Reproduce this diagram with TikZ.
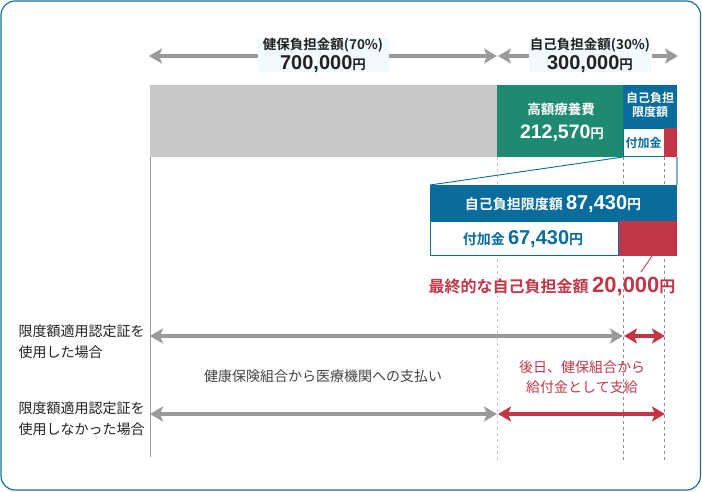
\documentclass[tikz,border=0pt]{standalone}
\usepackage{fontspec}
\setmainfont{Noto Sans CJK JP}[BoldFont={Noto Sans CJK JP Bold}]
\newfontfamily\numf{Liberation Sans}
\usetikzlibrary{arrows.meta}
\definecolor{frameblue}{HTML}{1A70A0}
\definecolor{barblue}{HTML}{086C9C}
\definecolor{bargreen}{HTML}{1E8A72}
\definecolor{barred}{HTML}{C23647}
\definecolor{bargray}{HTML}{C8C8C8}
\definecolor{arrgray}{HTML}{9A9A9A}
\definecolor{labelbg}{HTML}{F2FBFB}
\definecolor{txt}{HTML}{222222}
\begin{document}
\begin{tikzpicture}[x=1pt,y=-1pt,
  garrow/.style={draw=arrgray,line width=4pt,{Stealth[length=13pt,width=15pt,inset=3pt]}-{Stealth[length=13pt,width=15pt,inset=3pt]}},
  rarrow/.style={draw=barred,line width=4pt,{Stealth[length=13pt,width=15pt,inset=3pt]}-{Stealth[length=13pt,width=15pt,inset=3pt]}},
  toplabel/.style={fill=labelbg,inner sep=0pt,minimum width=131pt,minimum height=30pt,align=center,text=txt,font=\bfseries\fontsize{13.5}{15}\selectfont},
  vdash/.style={draw=gray!90,dashed,line width=0.6pt,dash pattern=on 3pt off 3pt},
  sidelabel/.style={anchor=west,align=left,text=txt,font=\fontsize{14}{21}\selectfont},
  whitebold/.style={text=white,font=\bfseries\fontsize{13.5}{15}\selectfont,align=center}
]
\useasboundingbox (0,0) rectangle (702,491);
\draw[frameblue,line width=1.2pt,rounded corners=14pt] (1,1) rectangle (700.5,490);

% guide lines
\coordinate (g1t) at (150,157); \coordinate (g1b) at (150,457);
\coordinate (g2t) at (497,157); \coordinate (g2b) at (497,462);
\coordinate (g3t) at (623,157); \coordinate (g3b) at (623,462);
\coordinate (g4t) at (664,157); \coordinate (g4b) at (664,462);
\draw[arrgray,line width=0.6pt] (g1t) -- (g1b);
\draw[vdash,draw=gray!45] (g2t) -- (g2b);
\draw[vdash] (g3t) -- (g3b);
\draw[vdash] (g4t) -- (g4b);

% top arrows
\coordinate (a1l) at (149,56); \coordinate (a1r) at (497,56);
\coordinate (a2l) at (498,56); \coordinate (a2r) at (678,56);
\draw[garrow] (a1l) -- (a1r);
\draw[garrow] (a2l) -- (a2r);
\node[toplabel] (lab70) at (323,55) {健保負担金額(70\%)\\[2pt]{\numf\fontsize{20}{22}\selectfont 700,000}円};
\node[toplabel,minimum width=123pt] (lab30) at (590,55) {自己負担金額(30\%)\\[2pt]{\numf\fontsize{20}{22}\selectfont 300,000}円};

% bar
\fill[bargray] (150,85) rectangle (497,157);
\fill[bargreen] (497,85) rectangle (623,157);
\fill[barblue] (623,85) rectangle (677,128);
\fill[white] (623,128) rectangle (664,157);
\draw[barblue,line width=1pt] (623.5,128) rectangle (664,156.5);
\fill[barred] (664,128) rectangle (677,157);
\node[whitebold] (kougaku) at (561,109) {高額療養費};
\node[whitebold] (kougakuv) at (562,133) {{\numf\fontsize{19.5}{21}\selectfont 212,570}円};
\node[whitebold,font=\bfseries\fontsize{12}{14}\selectfont] (gendo) at (650,105) {自己負担\\限度額};
\node[text=barblue,font=\bfseries\fontsize{12}{14}\selectfont] (fuka) at (643.5,143) {付加金};

% zoom lines
\coordinate (z1) at (623,157); \coordinate (z2) at (430,185);
\coordinate (z3) at (677,157); \coordinate (z4) at (677,185);
\draw[barblue,line width=0.9pt] (z1) -- (z2);
\draw[frameblue!55,line width=1.2pt] (z3) -- (z4);

% detail boxes
\fill[barblue] (430,185) rectangle (677,221);
\fill[white] (430,221) rectangle (619,256);
\draw[barblue,line width=1.2pt] (430.6,221) rectangle (619,255.4);
\fill[barred] (619,221) rectangle (677,256);
\node[whitebold,font=\bfseries\fontsize{14}{16}\selectfont] (gendo2) at (553,204) {自己負担限度額 {\numf\fontsize{20}{22}\selectfont 87,430}円};
\node[whitebold,text=barblue,font=\bfseries\fontsize{14}{16}\selectfont] (fuka2) at (523,239) {付加金 {\numf\fontsize{20}{22}\selectfont 67,430}円};
\coordinate (r1) at (652,256);
\node[text=barred,font=\bfseries\fontsize{16}{18}\selectfont] (final) at (552,287) {最終的な自己負担金額 {\numf\fontsize{22}{24}\selectfont 20,000}円};
\coordinate (r2) at (641,272);
\draw[barred,line width=0.8pt] (r1) -- (r2);

% bottom arrows
\coordinate (b1l) at (150,336); \coordinate (b1m) at (623,336); \coordinate (b1m2) at (624,336); \coordinate (b1r) at (665,336);
\coordinate (b2l) at (150,414); \coordinate (b2m) at (497,414); \coordinate (b2m2) at (498,414); \coordinate (b2r) at (665,414);
\draw[garrow] (b1l) -- (b1m);
\draw[rarrow] (b1m2) -- (b1r);
\draw[garrow] (b2l) -- (b2m);
\draw[rarrow] (b2m2) -- (b2r);

\node[sidelabel] (s1) at (15,342) {限度額適用認定証を\\使用した場合};
\node[sidelabel] (s2) at (15,419) {限度額適用認定証を\\使用しなかった場合};
\node[text=txt!85,font=\fontsize{14}{16}\selectfont] (pay) at (323,376) {健康保険組合から医療機関への支払い};
\node[text=barred,align=center,font=\fontsize{14}{20}\selectfont] (later) at (582,377) {後日、健保組合から\\給付金として支給};
\end{tikzpicture}
\end{document}
